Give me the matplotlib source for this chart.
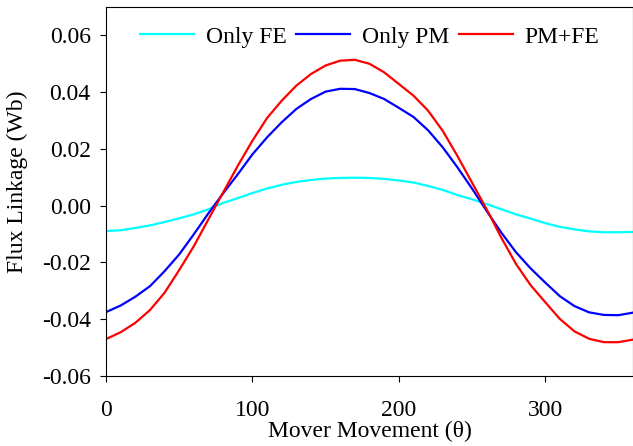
import matplotlib
matplotlib.use('Agg')
import matplotlib.pyplot as plt
import numpy as np

# mover position (deg)
theta = np.arange(0, 361, 10)

only_fe = [-0.0090, -0.0087, -0.0079, -0.0070, -0.0058, -0.0045, -0.0031, -0.0013,
           0.0009, 0.0026, 0.0044, 0.0060, 0.0073, 0.0083, 0.0090, 0.0095, 0.0097,
           0.0098, 0.0097, 0.0094, 0.0088, 0.0081, 0.0069, 0.0055, 0.0037, 0.0022,
           0.0005, -0.0013, -0.0031, -0.0046, -0.0062, -0.0075, -0.0084, -0.0091,
           -0.0094, -0.0094, -0.0093]

only_pm = [-0.0375, -0.0352, -0.0321, -0.0284, -0.0231, -0.0172, -0.0101, -0.0027,
           0.0043, 0.0110, 0.0180, 0.0240, 0.0293, 0.0340, 0.0375, 0.0401, 0.0411,
           0.0410, 0.0396, 0.0375, 0.0344, 0.0312, 0.0265, 0.0205, 0.0135, 0.0060,
           -0.0019, -0.0095, -0.0164, -0.0221, -0.0271, -0.0319, -0.0354, -0.0376,
           -0.0385, -0.0386, -0.0377]

pm_fe = [-0.0470, -0.0446, -0.0413, -0.0368, -0.0307, -0.0227, -0.0143, -0.0048,
         0.0046, 0.0140, 0.0228, 0.0308, 0.0369, 0.0422, 0.0463, 0.0493, 0.0510,
         0.0513, 0.0499, 0.0469, 0.0428, 0.0387, 0.0334, 0.0263, 0.0175, 0.0081,
         -0.0013, -0.0113, -0.0205, -0.0280, -0.0340, -0.0399, -0.0443, -0.0469,
         -0.0481, -0.0481, -0.0472]

labels = ['Only FE', 'Only PM', 'PM+FE']
colors = ['#00FFFF', '#0000FF', '#FF0000']

plt.rcParams['font.family'] = ['Liberation Serif', 'DejaVu Serif']
plt.rcParams['font.size'] = 17

fig = plt.figure(figsize=(6.33, 4.46), dpi=100)
ax = fig.add_axes([0.1675, 0.157, 0.8325, 0.828])

for y, lab, c in zip([only_fe, only_pm, pm_fe], labels, colors):
    ax.plot(theta, y, color=c, lw=1.6, label=lab)

ax.set_xlim(0, 360)
ax.set_ylim(-0.06, 0.07)
ax.set_xticks([0, 100, 200, 300])
ax.set_yticks([-0.06, -0.04, -0.02, 0.0, 0.02, 0.04, 0.06])
ax.yaxis.set_major_formatter(plt.FuncFormatter(lambda v, p: '%.2f' % v))
ax.tick_params(direction='out', length=4, width=0.8, labelsize=17)
ax.tick_params(axis='x', pad=13)
ax.tick_params(axis='y', pad=7)
for s in ax.spines.values():
    s.set_linewidth(0.8)

ax.set_xlabel('Mover Movement (\u03b8)', fontsize=17, labelpad=0)
ax.set_ylabel('Flux Linkage (Wb)', fontsize=17)
ax.yaxis.set_label_coords(-0.148, 0.525)

ax.legend(loc='center', bbox_to_anchor=(0.5, 0.918), ncol=3, frameon=False,
          fontsize=17, handlelength=2.3, handletextpad=0.5, columnspacing=0.4)

fig.savefig('out.png', dpi=100)
